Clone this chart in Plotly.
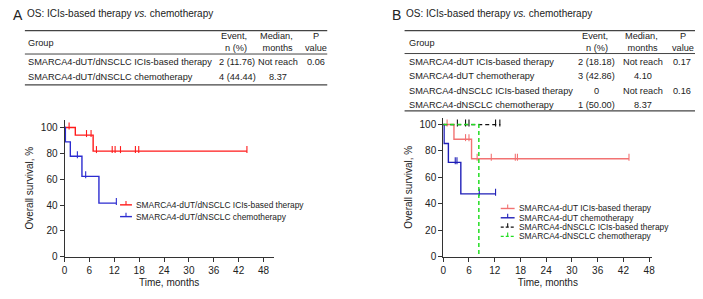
import plotly.graph_objects as go

W, H = 703, 299
OFF = 8  # page body margin of the browser
FW, FH = W - OFF, H - OFF
FONT = "Liberation Sans, Arial, Helvetica, sans-serif"
TXT = "#222222"

# ---------------- data ----------------
a_ici_t = [0, 2.6, 6.9, 44.0]
a_ici_s = [100, 94.1, 81.7, 81.7]
a_ici_cens = [1.1, 5.3, 6.4, 7.7, 11.5, 12.2, 13.5, 17.1, 17.9, 44.0]

a_chemo_t = [0, 0.2, 1.4, 4.2, 8.3, 12.5]
a_chemo_s = [100, 88.9, 77.8, 62.2, 41.5, 41.5]
a_chemo_cens = [3.1, 5.1, 12.5]

b_dut_ici_t = [0, 2.5, 6.6, 43.3]
b_dut_ici_s = [100, 88.9, 74.1, 74.1]
b_dut_ici_cens = [0.9, 5.2, 6.0, 7.9, 11.2, 16.8, 17.3, 43.3]

b_dut_chemo_t = [0, 0.2, 1.2, 4.1, 12.2]
b_dut_chemo_s = [100, 85.7, 71.4, 47.6, 47.6]
b_dut_chemo_cens = [2.8, 3.2, 8.4, 12.2]

b_dn_ici_t = [0, 13.3]
b_dn_ici_s = [100, 100]
b_dn_ici_cens = [3.3, 5.2, 6.0, 12.2, 13.2]

b_dn_chemo_t = [0, 8.3]
b_dn_chemo_s = [100, 0]
b_dn_chemo_cens = []

x_ticks = [0, 6, 12, 18, 24, 30, 36, 42, 48]
y_ticks = [0, 20, 40, 60, 80, 100]

a_title = "OS: ICIs-based therapy <i>vs.</i> chemotherapy"
b_title = "OS: ICIs-based therapy <i>vs.</i> chemotherapy"

a_groups = ["SMARCA4-dUT/dNSCLC ICIs-based therapy", "SMARCA4-dUT/dNSCLC chemotherapy"]
a_events = ["2 (11.76)", "4 (44.44)"]
a_medians = ["Not reach", "8.37"]
a_pvals = ["0.06", ""]

b_groups = ["SMARCA4-dUT ICIs-based therapy", "SMARCA4-dUT chemotherapy",
            "SMARCA4-dNSCLC ICIs-based therapy", "SMARCA4-dNSCLC chemotherapy"]
b_events = ["2 (18.18)", "3 (42.86)", "0", "1 (50.00)"]
b_medians = ["Not reach", "4.10", "Not reach", "8.37"]
b_pvals = ["0.17", "", "0.16", ""]

# ---------------- helpers ----------------
def px(x):
    return (x - OFF) / FW

def py(y):
    return 1 - (y - OFF) / FH

def surv_at(ts, ss, t):
    v = ss[0]
    for ti, si in zip(ts, ss):
        if ti <= t:
            v = si
    return v

fig = go.Figure()
annotations = []
shapes = []

def add_curve(ts, ss, cens, color, xa, ya, dash="solid", width=1.4):
    fig.add_trace(go.Scatter(x=ts, y=ss, mode="lines", line=dict(color=color, width=width, dash=dash, shape="hv"),
                             xaxis=xa, yaxis=ya, showlegend=False, hoverinfo="skip", cliponaxis=False))
    if cens:
        fig.add_trace(go.Scatter(x=cens, y=[surv_at(ts, ss, c) + 1.2 for c in cens], mode="markers",
                                 marker=dict(symbol="line-ns", size=5, color=color,
                                             line=dict(color=color, width=1.1)),
                                 xaxis=xa, yaxis=ya, showlegend=False, hoverinfo="skip", cliponaxis=False))

RED_A, BLUE_A = "#FF1A1A", "#2B2BD0"
RED_B, BLUE_B, BLACK_B, GREEN_B = "#F27272", "#1F1FB8", "#111111", "#22DD22"

add_curve(a_ici_t, a_ici_s, a_ici_cens, RED_A, "x", "y")
add_curve(a_chemo_t, a_chemo_s, a_chemo_cens, BLUE_A, "x", "y")

add_curve(b_dut_ici_t, b_dut_ici_s, b_dut_ici_cens, RED_B, "x2", "y2")
add_curve(b_dut_chemo_t, b_dut_chemo_s, b_dut_chemo_cens, BLUE_B, "x2", "y2")
add_curve(b_dn_ici_t, b_dn_ici_s, b_dn_ici_cens, BLACK_B, "x2", "y2", dash="4px,3px", width=1.3)
add_curve(b_dn_chemo_t, b_dn_chemo_s, b_dn_chemo_cens, GREEN_B, "x2", "y2", dash="4px,3px", width=1.5)

# ---------------- axes ----------------
axis_common = dict(showline=True, linecolor="#333333", linewidth=1, ticks="outside", ticklen=4,
                   tickcolor="#333333", tickwidth=1, showgrid=False, zeroline=False,
                   tickfont=dict(family=FONT, size=10, color=TXT))

def x_axis(x0, x1, rmax, anchor):
    return dict(axis_common, domain=[px(x0), px(x1)], range=[0, rmax], tickvals=x_ticks,
                anchor=anchor, title=dict(text="Time, months", font=dict(family=FONT, size=10, color=TXT), standoff=4))

def y_axis(y_top, y_bot, rmax, anchor):
    return dict(axis_common, domain=[py(y_bot), py(y_top)], range=[0, rmax], tickvals=y_ticks,
                anchor=anchor, title=dict(text="Overall survival, %", font=dict(family=FONT, size=10, color=TXT), standoff=5))

fig.update_layout(
    xaxis=x_axis(62, 273, (273 - 62) / (200.7 / 48), "y"),
    yaxis=y_axis(122, 262, (262 - 122) / 1.32, "x"),
    xaxis2=x_axis(444, 655, (655 - 444) / (207.7 / 48), "y2"),
    yaxis2=y_axis(120, 262, (262 - 120) / 1.35, "x2"),
)

# ---------------- tables ----------------
def txt(x, y, s, size=9.2, xanchor="left", align="left"):
    annotations.append(dict(x=px(x), y=py(y), xref="paper", yref="paper", text=s, showarrow=False,
                            xanchor=xanchor, yanchor="middle", align=align, borderpad=0,
                            font=dict(family=FONT, size=size, color=TXT)))

def hline(x0, x1, y, w=1.1, color="#444444"):
    shapes.append(dict(type="line", xref="paper", yref="paper", x0=px(x0), x1=px(x1), y0=py(y), y1=py(y),
                       line=dict(color=color, width=w)))

# Panel A table
txt(9, 15, "A", size=14)
txt(23, 14, a_title, size=10)
hline(22, 327, 31, 1.3)
hline(22, 327, 55, 1.0)
hline(22, 327, 86.5, 1.3)
txt(24, 43.5, "Group")
txt(247, 43, "Event,<br>n (%)", xanchor="right", align="right")
txt(293, 43, "Median,<br>months", xanchor="right", align="right")
txt(316, 43, "P<br>value", xanchor="center", align="center")
for i, (g, e, m, p) in enumerate(zip(a_groups, a_events, a_medians, a_pvals)):
    yy = 63 + i * 15.5
    txt(24, yy, g)
    txt(236, yy, e, xanchor="center", align="center")
    txt(277.5, yy, m, xanchor="center", align="center")
    txt(315.5, yy, p, xanchor="center", align="center")

# Panel B table
txt(391, 15, "B", size=14)
txt(405, 14, b_title, size=10)
hline(405, 703, 31, 1.3)
hline(405, 703, 54.5, 1.0)
hline(405, 703, 113, 1.3)
txt(408, 43.5, "Group")
txt(611, 43, "Event,<br>n (%)", xanchor="right", align="right")
txt(662, 43, "Median,<br>months", xanchor="right", align="right")
txt(686, 43, "P<br>value", xanchor="center", align="center")
for i, (g, e, m, p) in enumerate(zip(b_groups, b_events, b_medians, b_pvals)):
    yy = 63 + i * 14.7
    txt(408, yy, g)
    txt(599, yy, e, xanchor="center", align="center")
    txt(646, yy, m, xanchor="center", align="center")
    txt(685, yy, p, xanchor="center", align="center")

# ---------------- legends (drawn) ----------------
def legend_entry(x0, x1, y, color, label, dash="solid", width=1.4):
    shapes.append(dict(type="line", xref="paper", yref="paper", x0=px(x0), x1=px(x1), y0=py(y), y1=py(y),
                       line=dict(color=color, width=width, dash=dash)))
    xm = (x0 + x1) / 2
    shapes.append(dict(type="line", xref="paper", yref="paper", x0=px(xm), x1=px(xm), y0=py(y), y1=py(y - 4),
                       line=dict(color=color, width=1.1)))
    txt(x1 + 3, y, label, size=8.4)

legend_entry(118, 130, 209, RED_A, a_groups[0])
legend_entry(118, 130, 221, BLUE_A, a_groups[1])

b_cols = [RED_B, BLUE_B, BLACK_B, GREEN_B]
b_dash = ["solid", "solid", "3px,2px", "3px,2px"]
for i, (g, c, d) in enumerate(zip(b_groups, b_cols, b_dash)):
    legend_entry(502, 516, 212.7 + i * 9.5, c, g, dash=d)

fig.update_layout(
    width=FW, height=FH, margin=dict(l=0, r=0, t=0, b=0),
    paper_bgcolor="white", plot_bgcolor="white",
    annotations=annotations, shapes=shapes, showlegend=False,
    font=dict(family=FONT, color=TXT),
)

fig.write_html("out.html")
